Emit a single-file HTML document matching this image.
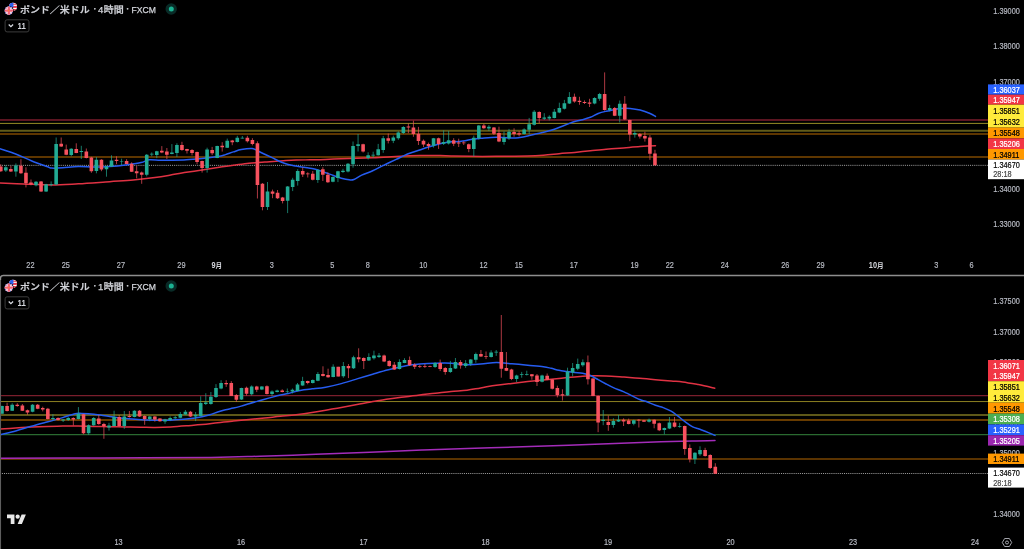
<!DOCTYPE html>
<html lang="ja">
<head>
<meta charset="utf-8">
<title>GBPUSD chart</title>
<style>
html,body{margin:0;padding:0;background:#000}
body{width:1024px;height:549px;position:relative;overflow:hidden;font-family:"Liberation Sans","Noto Sans CJK JP",sans-serif}
</style>
</head>
<body>
<svg width="1024" height="549" viewBox="0 0 1024 549" style="position:absolute;left:0;top:0;will-change:transform">
<rect width="1024" height="549" fill="#000"/>
<g id="pane-top">
<path d="M0 120.1H988" stroke="#5d1521" stroke-width="2.0" fill="none"/>
<path d="M0 123.4H988" stroke="#988c25" stroke-width="1.0" fill="none"/>
<path d="M0 130.8H988" stroke="#615b18" stroke-width="2.0" fill="none"/>
<path d="M0 134.0H988" stroke="#5e3600" stroke-width="2.0" fill="none"/>
<path d="M0 157.0H988" stroke="#5e3600" stroke-width="2.0" fill="none"/>
<path d="M0 165.35H988" stroke="#c4c4c4" stroke-width="0.8" stroke-dasharray="1.05 1.05" stroke-dashoffset="0.2" fill="none"/>
<path d="M0.0 183.0C3.9 183.2 14.9 183.6 23.5 183.9C32.1 184.2 42.6 184.9 51.7 184.9C60.9 184.9 68.7 184.3 78.4 183.8C88.1 183.3 100.6 182.3 109.7 181.7C118.8 181.0 125.6 180.6 133.2 179.9C140.8 179.2 148.8 178.3 155.0 177.5C161.2 176.7 165.5 175.9 170.7 175.0C175.9 174.1 181.1 173.1 186.3 172.3C191.5 171.5 196.8 170.8 202.0 170.0C207.2 169.2 212.5 168.4 217.7 167.6C222.9 166.8 228.2 166.0 233.4 165.3C238.6 164.6 243.8 163.7 249.0 163.2C254.2 162.7 259.5 162.5 264.7 162.1C269.9 161.7 275.2 161.2 280.4 160.9C285.6 160.6 291.2 160.3 296.1 160.1C301.0 159.9 305.1 159.9 310.0 159.8C314.9 159.7 320.5 159.6 325.7 159.4C330.9 159.2 336.1 159.0 341.3 158.8C346.5 158.6 351.8 158.5 357.0 158.3C362.2 158.1 367.5 158.0 372.7 157.8C377.9 157.6 383.2 157.3 388.4 157.0C393.6 156.7 398.8 156.2 404.0 155.9C409.2 155.7 414.5 155.6 419.7 155.5C424.9 155.4 430.2 155.4 435.4 155.5C440.6 155.6 445.3 155.8 451.1 155.9C456.9 156.0 462.5 156.2 470.0 156.3C477.5 156.4 486.7 156.4 496.3 156.3C505.9 156.2 519.9 156.2 527.7 156.0C535.6 155.8 538.2 155.6 543.4 155.2C548.6 154.8 553.8 154.2 559.0 153.7C564.2 153.2 569.5 152.9 574.7 152.4C579.9 151.9 585.2 151.3 590.4 150.8C595.6 150.3 601.2 149.7 606.1 149.3C611.0 148.9 614.4 148.6 620.0 148.2C625.6 147.8 634.1 147.0 640.0 146.6C645.9 146.2 652.9 145.9 655.5 145.8" stroke="#e03243" stroke-width="1.5" fill="none" stroke-linejoin="round" stroke-linecap="round"/>
<path d="M0.0 148.8C2.6 149.7 10.5 152.0 15.7 154.0C20.9 156.0 26.1 158.6 31.3 160.7C36.5 162.8 43.6 165.3 47.0 166.5C50.4 167.7 49.1 167.9 51.7 168.1C54.3 168.3 58.2 168.1 62.7 167.8C67.2 167.5 73.2 166.6 78.4 166.5C83.6 166.4 88.8 167.0 94.0 167.0C99.2 167.0 104.5 166.8 109.7 166.5C114.9 166.2 120.2 165.7 125.4 165.0C130.6 164.3 137.1 163.5 141.0 162.6C144.9 161.7 145.7 160.2 148.9 159.8C152.1 159.4 156.4 160.2 160.0 160.3C163.6 160.4 166.3 160.4 170.7 160.3C175.1 160.2 181.1 160.1 186.3 159.8C191.5 159.5 196.8 159.0 202.0 158.5C207.2 158.0 213.8 157.2 217.7 156.6C221.6 155.9 222.9 155.4 225.5 154.6C228.1 153.8 230.8 152.7 233.4 151.9C236.0 151.1 238.1 150.2 241.2 149.6C244.3 149.0 249.3 148.2 252.2 148.5C255.1 148.8 256.3 150.2 258.4 151.2C260.5 152.2 262.3 153.2 264.7 154.3C267.1 155.4 270.0 156.7 272.6 157.9C275.2 159.2 277.8 160.7 280.4 161.8C283.0 162.9 285.6 163.8 288.2 164.5C290.8 165.2 293.5 165.6 296.1 166.1C298.7 166.6 301.2 166.9 303.9 167.3C306.5 167.7 309.7 168.1 312.0 168.5C314.3 168.9 315.5 169.3 317.8 170.0C320.1 170.7 323.1 171.8 325.7 172.7C328.3 173.6 330.9 174.6 333.5 175.5C336.1 176.4 338.7 177.5 341.3 178.2C343.9 178.9 347.1 179.6 349.2 179.8C351.3 180.0 351.8 180.3 353.9 179.5C356.0 178.7 358.6 176.5 361.7 175.1C364.8 173.7 369.6 172.2 372.7 170.8C375.8 169.4 377.9 168.2 380.5 166.9C383.1 165.6 385.8 164.2 388.4 163.0C391.0 161.8 393.6 160.6 396.2 159.4C398.8 158.2 401.4 156.8 404.0 155.6C406.6 154.4 409.3 153.4 411.9 152.5C414.5 151.6 417.1 150.9 419.7 150.0C422.3 149.1 425.0 148.1 427.6 147.3C430.2 146.5 432.8 145.7 435.4 145.0C438.0 144.3 440.6 143.4 443.2 142.9C445.8 142.4 448.5 142.0 451.1 141.8C453.7 141.6 456.6 141.7 458.9 141.5C461.2 141.3 462.7 141.2 465.0 140.8C467.3 140.4 470.2 139.6 472.8 139.2C475.4 138.8 476.8 138.6 480.7 138.3C484.6 138.0 491.1 137.2 496.3 137.2C501.5 137.1 508.1 137.9 512.0 138.0C515.9 138.1 517.3 137.8 519.9 137.5C522.5 137.2 525.1 136.6 527.7 136.0C530.3 135.4 532.9 134.7 535.5 134.1C538.1 133.5 540.8 132.8 543.4 132.2C546.0 131.5 548.6 131.0 551.2 130.2C553.8 129.4 556.4 128.5 559.0 127.5C561.6 126.5 564.3 125.4 566.9 124.4C569.5 123.4 572.1 122.3 574.7 121.5C577.3 120.7 580.0 120.4 582.6 119.7C585.2 119.0 587.8 118.3 590.4 117.3C593.0 116.3 595.6 114.5 598.2 113.5C600.8 112.5 603.5 111.9 606.1 111.3C608.7 110.7 611.6 110.3 613.9 109.8C616.2 109.3 617.4 108.7 620.1 108.5C622.8 108.3 626.8 108.2 630.1 108.5C633.4 108.8 636.8 109.3 640.1 110.1C643.4 110.9 647.5 112.4 650.1 113.5C652.7 114.6 654.6 116.0 655.5 116.5" stroke="#265cf0" stroke-width="1.5" fill="none" stroke-linejoin="round" stroke-linecap="round"/>
<path d="M5.83 165.0V172.0M15.90 163.4V176.7M36.02 181.0V186.4M46.09 183.8V192.0M51.12 181.4V186.4M56.15 137.5V184.9M71.25 148.2V156.3M81.31 145.8V159.0M96.41 157.1V173.3M106.47 165.8V176.7M111.50 155.3V167.0M121.57 158.7V165.0M146.73 154.0V176.4M151.76 152.4V156.3M156.79 150.8V158.2M171.89 144.1V154.3M176.92 143.3V157.0M207.11 147.7V172.6M217.18 145.7V158.2M227.24 138.6V148.0M237.30 135.8V142.5M242.34 136.0V138.6M267.50 182.0V210.0M287.62 186.0V213.1M292.66 177.8V191.1M297.69 169.2V185.6M317.82 169.0V182.9M332.91 176.3V182.3M337.94 170.8V182.1M342.98 168.8V172.9M348.01 163.0V172.4M353.04 141.5V167.7M358.07 134.0V151.5M368.14 152.3V159.5M373.17 151.7V157.8M378.20 143.9V155.6M383.23 135.9V152.8M393.30 135.6V143.1M398.33 131.3V139.8M403.36 126.2V134.0M433.55 137.9V147.6M443.62 130.4V145.0M448.65 130.9V144.5M473.81 135.6V156.3M478.84 125.0V139.6M488.90 125.1V130.9M504.00 131.4V144.7M509.03 128.9V139.9M524.13 128.3V134.5M529.16 117.9V134.1M534.19 110.1V125.5M544.26 113.2V120.0M549.29 115.3V120.4M554.32 109.0V118.4M559.35 102.7V113.2M564.38 99.9V109.5M569.42 92.1V104.0M594.58 97.2V104.3M599.61 92.9V100.8M609.67 104.9V111.4M619.74 100.5V122.5M634.83 130.7V137.6" stroke="#22ab94" stroke-width="0.7" fill="none"/>
<path d="M0.80 164.2V172.0M10.86 166.0V172.0M20.93 159.2V173.9M25.96 167.3V187.4M30.99 179.5V185.3M41.06 181.0V192.0M61.18 137.5V147.0M66.22 144.6V155.2M76.28 143.3V153.2M86.34 148.5V158.4M91.38 156.8V172.8M101.44 159.2V171.2M116.54 156.3V164.2M126.60 159.2V164.2M131.63 162.3V172.0M136.66 166.0V178.3M141.70 171.5V183.8M161.82 146.1V153.2M166.86 148.0V159.0M181.95 141.8V150.8M186.98 148.8V153.5M192.02 149.1V155.4M197.05 151.6V164.2M202.08 160.6V172.6M212.14 146.9V155.1M222.21 142.2V151.6M232.27 139.9V145.2M247.37 135.8V142.5M252.40 138.2V145.4M257.43 141.3V198.5M262.46 183.0V210.3M272.53 189.6V198.2M277.56 190.0V199.0M282.59 196.9V203.4M302.72 167.6V177.0M307.75 172.3V177.5M312.78 171.0V180.4M322.85 167.2V181.0M327.88 172.4V182.9M363.10 143.7V152.5M388.26 133.5V143.4M408.39 123.5V133.2M413.42 120.7V136.8M418.46 126.9V145.0M423.49 139.5V147.0M428.52 142.6V149.7M438.58 137.6V148.9M453.68 138.2V146.1M458.71 138.7V147.0M463.74 141.1V145.0M468.78 143.5V152.2M483.87 123.9V128.9M493.94 127.0V134.9M498.97 126.7V142.2M514.06 128.3V136.7M519.10 130.9V136.4M539.22 111.3V123.1M574.45 93.6V102.7M579.48 96.8V104.8M584.51 100.4V104.0M589.54 98.8V107.0M604.64 72.4V110.7M614.70 107.0V116.1M624.77 96.1V120.1M629.80 119.7V141.2M639.86 133.1V138.6M644.90 131.7V141.6M649.93 135.1V159.8M654.96 149.8V165.6" stroke="#f7525f" stroke-width="0.7" fill="none"/>
<path d="M4.03 167.3h3.6V170.5h-3.6zM14.10 165.4h3.6V171.6h-3.6zM34.22 181.7h3.6V185.3h-3.6zM44.29 184.2h3.6V191.6h-3.6zM49.32 184.2h3.6V185.0h-3.6zM54.35 144.1h3.6V184.6h-3.6zM69.45 148.8h3.6V155.1h-3.6zM79.51 150.9h3.6V152.0h-3.6zM94.61 159.8h3.6V170.9h-3.6zM104.67 166.5h3.6V169.2h-3.6zM109.70 160.6h3.6V166.5h-3.6zM119.77 161.4h3.6V162.1h-3.6zM144.93 154.8h3.6V174.7h-3.6zM149.96 153.8h3.6V154.6h-3.6zM154.99 151.3h3.6V155.1h-3.6zM170.09 152.4h3.6V154.0h-3.6zM175.12 144.9h3.6V153.0h-3.6zM205.31 149.6h3.6V168.1h-3.6zM215.38 146.1h3.6V157.9h-3.6zM225.44 140.7h3.6V147.7h-3.6zM235.50 137.8h3.6V142.1h-3.6zM240.54 137.8h3.6V138.5h-3.6zM265.70 191.6h3.6V207.1h-3.6zM285.82 186.4h3.6V200.8h-3.6zM290.86 179.8h3.6V186.9h-3.6zM295.89 171.1h3.6V180.9h-3.6zM316.02 170.0h3.6V179.9h-3.6zM331.11 177.1h3.6V181.8h-3.6zM336.14 171.3h3.6V177.9h-3.6zM341.18 170.8h3.6V171.9h-3.6zM346.21 163.8h3.6V171.6h-3.6zM351.24 146.1h3.6V164.2h-3.6zM356.27 144.2h3.6V146.1h-3.6zM366.34 155.2h3.6V158.0h-3.6zM371.37 154.8h3.6V155.6h-3.6zM376.40 149.2h3.6V155.2h-3.6zM381.43 138.2h3.6V150.0h-3.6zM391.50 137.4h3.6V140.7h-3.6zM396.53 132.4h3.6V138.2h-3.6zM401.56 126.9h3.6V132.9h-3.6zM431.75 138.2h3.6V145.8h-3.6zM441.82 142.1h3.6V143.7h-3.6zM446.85 140.3h3.6V143.4h-3.6zM472.01 137.7h3.6V149.0h-3.6zM477.04 125.5h3.6V138.3h-3.6zM487.10 126.7h3.6V128.6h-3.6zM502.20 137.7h3.6V141.9h-3.6zM507.23 131.7h3.6V138.3h-3.6zM522.33 129.4h3.6V134.1h-3.6zM527.36 124.2h3.6V129.8h-3.6zM532.39 111.8h3.6V124.7h-3.6zM542.46 117.6h3.6V118.7h-3.6zM547.49 116.8h3.6V118.4h-3.6zM552.52 111.8h3.6V117.9h-3.6zM557.55 107.9h3.6V112.6h-3.6zM562.58 103.2h3.6V108.7h-3.6zM567.62 96.9h3.6V103.5h-3.6zM592.78 98.0h3.6V103.5h-3.6zM597.81 94.1h3.6V98.8h-3.6zM607.87 108.0h3.6V110.0h-3.6zM617.94 103.7h3.6V115.7h-3.6zM633.03 133.1h3.6V134.5h-3.6z" fill="#22ab94"/>
<path d="M-1.00 166.5h3.6V171.2h-3.6zM9.06 168.9h3.6V171.6h-3.6zM19.13 165.8h3.6V173.3h-3.6zM24.16 172.8h3.6V183.3h-3.6zM29.19 182.5h3.6V184.6h-3.6zM39.26 181.4h3.6V191.6h-3.6zM59.38 143.8h3.6V146.5h-3.6zM64.42 149.6h3.6V154.8h-3.6zM74.48 149.0h3.6V152.9h-3.6zM84.54 151.6h3.6V157.9h-3.6zM89.58 157.4h3.6V171.2h-3.6zM99.64 159.8h3.6V169.4h-3.6zM114.74 159.8h3.6V161.0h-3.6zM124.80 161.0h3.6V163.9h-3.6zM129.83 163.7h3.6V171.7h-3.6zM134.86 171.2h3.6V173.3h-3.6zM139.90 172.5h3.6V174.7h-3.6zM160.02 150.8h3.6V152.4h-3.6zM165.06 151.6h3.6V154.8h-3.6zM180.15 144.9h3.6V150.1h-3.6zM185.18 149.1h3.6V150.8h-3.6zM190.22 150.1h3.6V153.0h-3.6zM195.25 151.9h3.6V162.1h-3.6zM200.28 161.0h3.6V168.1h-3.6zM210.34 149.9h3.6V153.2h-3.6zM220.41 145.7h3.6V147.2h-3.6zM230.47 140.5h3.6V142.2h-3.6zM245.57 137.8h3.6V141.3h-3.6zM250.60 139.9h3.6V144.1h-3.6zM255.63 143.3h3.6V184.9h-3.6zM260.66 183.8h3.6V207.1h-3.6zM270.73 191.6h3.6V193.8h-3.6zM275.76 192.7h3.6V198.2h-3.6zM280.79 197.4h3.6V201.0h-3.6zM300.92 171.1h3.6V174.4h-3.6zM305.95 173.4h3.6V174.2h-3.6zM310.98 173.8h3.6V179.7h-3.6zM321.05 169.3h3.6V174.7h-3.6zM326.08 174.7h3.6V182.3h-3.6zM361.30 144.2h3.6V151.5h-3.6zM386.46 138.2h3.6V140.7h-3.6zM406.59 126.5h3.6V127.4h-3.6zM411.62 127.4h3.6V134.0h-3.6zM416.66 133.7h3.6V141.1h-3.6zM421.69 140.7h3.6V144.5h-3.6zM426.72 143.9h3.6V146.1h-3.6zM436.78 138.2h3.6V143.9h-3.6zM451.88 140.3h3.6V143.7h-3.6zM456.91 142.6h3.6V143.4h-3.6zM461.94 142.5h3.6V143.2h-3.6zM466.98 144.2h3.6V149.0h-3.6zM482.07 125.5h3.6V128.3h-3.6zM492.14 127.5h3.6V133.8h-3.6zM497.17 133.0h3.6V141.6h-3.6zM512.26 132.0h3.6V134.1h-3.6zM517.30 133.3h3.6V134.4h-3.6zM537.42 112.1h3.6V118.1h-3.6zM572.65 96.8h3.6V101.6h-3.6zM577.68 100.8h3.6V101.9h-3.6zM582.71 101.9h3.6V102.9h-3.6zM587.74 102.4h3.6V103.8h-3.6zM602.84 94.1h3.6V110.0h-3.6zM612.90 108.1h3.6V115.7h-3.6zM622.97 103.7h3.6V119.6h-3.6zM628.00 120.1h3.6V134.5h-3.6zM638.06 134.1h3.6V136.5h-3.6zM643.10 136.1h3.6V138.6h-3.6zM648.13 137.6h3.6V153.8h-3.6zM653.16 153.4h3.6V165.2h-3.6z" fill="#f7525f"/>
</g>
<g id="pane-bottom">
<path d="M0 395.7H988" stroke="#7a1e2c" stroke-width="1.3" fill="none"/>
<path d="M0 401.55H988" stroke="#8c8022" stroke-width="1.0" fill="none"/>
<path d="M0 414.9H988" stroke="#5e5818" stroke-width="2.0" fill="none"/>
<path d="M0 420.0H988" stroke="#683c00" stroke-width="2.0" fill="none"/>
<path d="M0 434.6H988" stroke="#2a6a30" stroke-width="1.1" fill="none"/>
<path d="M0 458.9H988" stroke="#784500" stroke-width="1.5" fill="none"/>
<path d="M0 473.5H988" stroke="#c4c4c4" stroke-width="0.8" stroke-dasharray="1.05 1.05" stroke-dashoffset="0.2" fill="none"/>
<path d="M0.0 458.2C16.7 458.2 64.8 458.1 100.0 458.0C135.2 457.9 184.3 457.7 211.0 457.4C237.7 457.1 242.5 456.7 260.0 456.2C277.5 455.7 297.7 455.0 316.0 454.3C334.3 453.6 352.3 452.9 370.0 452.2C387.7 451.5 404.5 450.7 422.0 450.0C439.5 449.3 457.0 448.8 475.0 448.2C493.0 447.6 507.8 447.4 530.0 446.6C552.2 445.9 586.2 444.5 608.0 443.7C629.8 442.9 646.8 442.3 661.0 441.8C675.2 441.3 684.0 441.1 693.0 440.9C702.0 440.7 711.3 440.7 715.0 440.6" stroke="#a42cba" stroke-width="1.5" fill="none" stroke-linejoin="round" stroke-linecap="round"/>
<path d="M0.0 429.1C2.6 428.9 10.5 428.4 15.7 428.0C20.9 427.6 26.1 427.3 31.3 427.0C36.5 426.7 41.8 426.5 47.0 426.4C52.2 426.2 57.5 426.2 62.7 426.1C67.9 426.1 73.2 426.1 78.4 426.1C83.6 426.2 88.8 426.3 94.0 426.4C99.2 426.5 104.5 426.6 109.7 426.7C114.9 426.8 120.2 426.9 125.4 427.0C130.6 427.1 136.1 427.1 141.0 427.2C145.9 427.3 150.1 427.6 155.0 427.5C159.9 427.4 165.5 427.2 170.7 426.9C175.9 426.6 181.1 426.2 186.3 425.8C191.5 425.4 196.8 425.1 202.0 424.6C207.2 424.1 212.5 423.3 217.7 422.7C222.9 422.1 228.2 421.6 233.4 421.1C238.6 420.6 243.8 420.0 249.0 419.5C254.2 419.0 259.5 418.5 264.7 418.0C269.9 417.5 275.2 416.8 280.4 416.3C285.6 415.8 290.8 415.4 296.1 414.8C301.4 414.2 307.1 413.4 312.0 412.6C316.9 411.8 320.8 411.1 325.7 410.2C330.6 409.3 336.1 408.4 341.3 407.4C346.5 406.4 351.8 405.4 357.0 404.4C362.2 403.4 367.5 402.5 372.7 401.6C377.9 400.7 383.2 399.7 388.4 398.9C393.6 398.1 398.8 397.6 404.0 396.9C409.2 396.2 414.5 395.5 419.7 394.9C424.9 394.3 430.2 393.9 435.4 393.3C440.6 392.7 445.8 391.9 451.1 391.4C456.4 390.9 462.1 390.8 467.0 390.2C471.9 389.6 475.8 388.7 480.7 387.9C485.6 387.1 491.1 385.9 496.3 385.2C501.5 384.4 506.8 384.0 512.0 383.4C517.2 382.8 522.5 382.2 527.7 381.6C532.9 381.1 538.2 380.6 543.4 380.1C548.6 379.6 553.8 379.0 559.0 378.5C564.2 378.0 569.5 377.3 574.7 376.9C579.9 376.4 585.2 376.0 590.4 375.8C595.6 375.6 600.5 375.7 606.1 375.9C611.7 376.1 618.4 376.7 624.0 377.1C629.6 377.5 634.5 377.9 639.7 378.3C644.9 378.7 650.2 379.2 655.4 379.7C660.6 380.1 666.5 380.6 671.1 381.0C675.7 381.4 678.2 381.3 682.7 381.9C687.2 382.5 693.0 383.6 698.4 384.6C703.8 385.7 712.1 387.6 714.8 388.2" stroke="#e03243" stroke-width="1.5" fill="none" stroke-linejoin="round" stroke-linecap="round"/>
<path d="M0.0 434.9C2.6 434.2 10.5 432.4 15.7 431.0C20.9 429.6 26.1 427.8 31.3 426.3C36.5 424.8 41.8 423.4 47.0 422.0C52.2 420.6 58.0 419.0 62.7 417.6C67.4 416.2 72.1 414.4 75.2 413.7C78.3 413.0 78.4 413.3 81.5 413.4C84.6 413.5 89.3 413.7 94.0 414.2C98.7 414.7 104.5 415.8 109.7 416.5C114.9 417.2 120.2 418.1 125.4 418.6C130.6 419.1 135.3 419.4 141.1 419.7C146.9 420.0 155.1 420.2 160.0 420.3C164.9 420.4 166.3 420.4 170.7 420.2C175.1 420.0 181.1 419.7 186.3 419.1C191.5 418.5 198.1 417.4 202.0 416.7C205.9 416.0 207.3 415.6 209.9 414.8C212.5 414.0 215.1 412.9 217.7 412.0C220.3 411.1 222.9 410.3 225.5 409.7C228.1 409.1 230.8 408.7 233.4 408.1C236.0 407.5 238.6 406.8 241.2 406.1C243.8 405.4 246.4 404.5 249.0 403.7C251.6 402.9 254.3 402.1 256.9 401.4C259.5 400.6 262.1 399.9 264.7 399.2C267.3 398.5 270.0 397.8 272.6 397.1C275.2 396.4 277.8 395.7 280.4 395.1C283.0 394.5 285.6 394.1 288.2 393.5C290.8 392.9 293.5 391.9 296.1 391.3C298.7 390.7 301.2 390.2 303.9 389.8C306.5 389.4 308.4 389.2 312.0 388.8C315.6 388.4 320.8 388.1 325.7 387.2C330.6 386.3 336.1 385.0 341.3 383.6C346.5 382.2 351.8 380.5 357.0 378.9C362.2 377.3 367.5 375.7 372.7 374.2C377.9 372.7 383.2 371.1 388.4 369.8C393.6 368.5 400.1 367.1 404.0 366.3C407.9 365.5 409.3 365.2 411.9 364.8C414.5 364.4 415.8 364.3 419.7 364.0C423.6 363.7 430.2 363.3 435.4 363.2C440.6 363.1 446.2 363.0 451.1 363.2C456.0 363.4 460.1 364.5 465.0 364.6C469.9 364.8 475.5 364.5 480.7 364.1C485.9 363.8 491.1 362.6 496.3 362.5C501.5 362.4 506.8 363.4 512.0 363.8C517.2 364.2 522.5 364.7 527.7 365.2C532.9 365.7 539.5 366.2 543.4 366.7C547.3 367.2 548.6 367.7 551.2 368.3C553.8 368.9 556.4 369.8 559.0 370.3C561.6 370.9 564.3 371.2 566.9 371.6C569.5 372.0 572.1 372.1 574.7 372.4C577.3 372.7 580.0 372.7 582.6 373.2C585.2 373.7 587.8 374.4 590.4 375.5C593.0 376.6 595.6 378.3 598.2 379.7C600.8 381.1 603.5 382.6 606.1 384.0C608.7 385.4 610.9 386.6 613.9 387.9C616.9 389.2 619.7 390.0 624.0 391.9C628.3 393.8 636.1 397.9 639.7 399.5C643.3 401.1 643.1 400.3 645.7 401.3C648.3 402.3 652.5 404.2 655.4 405.3C658.3 406.4 660.6 406.6 663.2 407.6C665.8 408.6 668.8 409.8 671.1 411.1C673.4 412.4 674.7 413.6 677.0 415.4C679.3 417.1 682.3 419.7 684.9 421.6C687.5 423.5 690.1 425.5 692.7 426.8C695.3 428.1 697.9 428.5 700.5 429.5C703.1 430.5 706.0 431.6 708.4 432.6C710.8 433.6 713.9 434.9 715.0 435.4" stroke="#265cf0" stroke-width="1.5" fill="none" stroke-linejoin="round" stroke-linecap="round"/>
<path d="M2.00 405.6V414.1M12.19 403.2V411.0M32.57 404.0V412.3M52.95 414.2V420.5M63.14 418.9V422.0M68.23 417.0V420.9M78.42 407.1V419.4M88.61 424.4V434.9M93.71 417.0V425.9M108.99 422.8V430.6M114.09 410.7V426.4M124.28 411.0V428.8M134.47 410.3V417.3M149.75 416.1V421.2M165.04 418.8V423.8M170.13 416.4V421.1M175.23 415.9V419.1M180.32 412.0V418.3M185.42 410.0V414.8M195.61 412.0V421.1M200.70 396.3V416.4M205.80 393.2V405.0M210.89 392.0V404.7M215.99 384.1V397.9M221.08 380.2V389.3M241.46 387.7V400.0M251.66 385.4V395.6M261.84 386.2V390.1M272.03 390.4V396.3M277.13 389.6V392.4M287.32 388.5V393.5M292.41 388.5V393.5M297.51 383.0V391.3M302.60 376.8V385.8M312.79 379.4V383.5M317.89 372.1V381.2M333.18 364.3V377.3M343.37 362.0V377.8M353.56 355.7V369.0M368.84 353.3V360.9M373.94 350.7V359.6M379.03 353.0V358.0M399.41 359.3V369.5M404.50 358.2V363.2M435.07 362.1V367.9M450.36 360.9V372.9M455.45 358.0V369.0M465.64 360.1V367.9M470.74 359.0V366.0M475.83 352.6V362.8M491.12 350.3V357.5M496.21 350.0V355.9M516.60 374.7V382.1M521.69 371.9V377.7M526.78 370.7V375.5M542.07 374.7V382.4M567.54 367.7V395.9M572.64 363.0V376.3M577.74 358.6V370.3M582.83 359.4V366.7M603.21 410.0V425.2M613.40 418.3V427.7M618.50 415.0V422.0M633.78 419.7V425.3M649.06 418.6V422.5M664.35 427.5V434.3M669.44 417.0V429.1M679.63 422.8V427.7M694.92 452.2V464.0M700.01 446.3V455.8" stroke="#22ab94" stroke-width="0.7" fill="none"/>
<path d="M7.09 402.7V411.5M17.29 403.2V406.8M22.38 404.0V411.0M27.47 409.5V414.7M37.66 404.0V409.2M42.76 406.7V411.4M47.85 407.9V419.4M58.04 417.3V420.5M73.33 417.3V425.5M83.52 413.9V434.2M98.80 415.0V424.8M103.90 422.8V438.8M119.18 415.0V426.7M129.38 411.0V417.6M139.56 410.0V417.0M144.66 415.4V424.8M154.85 416.1V421.7M159.94 418.1V421.8M190.51 410.9V417.0M226.18 380.2V386.9M231.27 381.1V396.0M236.37 394.0V401.8M246.56 386.6V395.6M256.75 385.8V392.1M266.94 385.4V394.5M282.22 389.3V392.4M307.70 380.7V384.3M322.98 366.3V376.5M328.08 368.7V377.8M338.27 366.8V376.5M348.46 364.0V378.1M358.65 348.3V362.4M363.75 357.3V369.0M384.12 354.6V362.1M389.22 360.1V366.8M394.31 362.0V370.0M409.60 356.5V365.9M414.69 363.2V369.0M419.79 364.8V367.9M424.88 364.0V367.9M429.98 365.6V367.1M440.17 359.6V371.1M445.26 367.1V374.7M460.55 360.1V368.7M480.93 350.0V357.0M486.02 351.5V359.1M501.31 315.0V377.7M506.40 352.0V371.1M511.50 368.8V380.1M531.88 374.0V379.7M536.98 374.0V386.0M547.16 373.5V380.2M552.26 379.0V389.5M557.36 385.7V397.4M562.45 389.3V400.6M587.92 355.5V384.5M593.02 378.2V396.2M598.12 395.5V432.2M608.30 415.5V430.8M623.59 418.3V426.0M628.68 418.6V424.4M638.88 419.1V427.5M643.97 419.8V421.9M654.16 419.4V428.3M659.25 422.5V431.1M674.54 417.0V427.5M684.73 425.6V454.8M689.82 444.4V462.4M705.11 447.8V456.6M710.20 454.2V469.0M715.30 463.2V473.8" stroke="#f7525f" stroke-width="0.7" fill="none"/>
<path d="M0.20 405.9h3.6V413.7h-3.6zM10.39 404.8h3.6V410.7h-3.6zM30.77 404.8h3.6V411.8h-3.6zM51.15 418.1h3.6V418.9h-3.6zM61.34 419.4h3.6V420.5h-3.6zM66.44 418.1h3.6V420.0h-3.6zM76.62 413.7h3.6V418.9h-3.6zM86.81 425.2h3.6V433.3h-3.6zM91.91 418.1h3.6V425.2h-3.6zM107.19 425.5h3.6V427.5h-3.6zM112.29 417.0h3.6V425.9h-3.6zM122.48 416.5h3.6V425.9h-3.6zM132.67 410.7h3.6V417.0h-3.6zM147.95 416.5h3.6V418.9h-3.6zM163.24 419.4h3.6V421.4h-3.6zM168.33 418.0h3.6V419.9h-3.6zM173.43 417.2h3.6V418.3h-3.6zM178.52 414.1h3.6V417.8h-3.6zM183.62 411.7h3.6V414.4h-3.6zM193.81 414.8h3.6V416.4h-3.6zM198.90 402.9h3.6V415.9h-3.6zM204.00 402.6h3.6V403.9h-3.6zM209.09 396.8h3.6V403.9h-3.6zM214.19 388.0h3.6V397.1h-3.6zM219.28 383.0h3.6V388.5h-3.6zM239.66 388.0h3.6V399.5h-3.6zM249.85 386.5h3.6V394.3h-3.6zM260.04 386.6h3.6V389.6h-3.6zM270.23 391.6h3.6V394.0h-3.6zM275.33 390.4h3.6V392.0h-3.6zM285.52 390.9h3.6V391.6h-3.6zM290.61 389.8h3.6V391.6h-3.6zM295.71 384.6h3.6V390.9h-3.6zM300.80 381.1h3.6V385.4h-3.6zM310.99 380.1h3.6V383.0h-3.6zM316.09 373.9h3.6V380.8h-3.6zM331.38 366.8h3.6V377.0h-3.6zM341.56 366.0h3.6V376.2h-3.6zM351.75 357.3h3.6V368.2h-3.6zM367.04 356.9h3.6V360.5h-3.6zM372.13 355.4h3.6V358.2h-3.6zM377.23 355.4h3.6V356.9h-3.6zM397.61 362.1h3.6V369.0h-3.6zM402.70 360.1h3.6V362.9h-3.6zM433.27 362.9h3.6V367.1h-3.6zM448.56 367.9h3.6V372.1h-3.6zM453.65 362.1h3.6V368.4h-3.6zM463.84 363.2h3.6V365.9h-3.6zM468.94 359.4h3.6V363.8h-3.6zM474.03 353.9h3.6V359.8h-3.6zM489.32 352.6h3.6V357.0h-3.6zM494.41 351.8h3.6V352.6h-3.6zM514.80 375.4h3.6V379.0h-3.6zM519.89 374.0h3.6V374.7h-3.6zM524.99 373.9h3.6V374.7h-3.6zM540.27 375.5h3.6V381.8h-3.6zM565.75 371.5h3.6V395.5h-3.6zM570.84 368.0h3.6V372.4h-3.6zM575.94 364.1h3.6V368.8h-3.6zM581.03 362.2h3.6V365.2h-3.6zM601.41 419.8h3.6V421.1h-3.6zM611.60 420.9h3.6V424.9h-3.6zM616.70 419.8h3.6V421.4h-3.6zM631.98 420.2h3.6V423.8h-3.6zM647.26 419.7h3.6V421.7h-3.6zM662.55 428.0h3.6V430.0h-3.6zM667.64 422.5h3.6V428.5h-3.6zM677.84 426.0h3.6V426.7h-3.6zM693.12 452.7h3.6V459.3h-3.6zM698.22 449.9h3.6V454.2h-3.6z" fill="#22ab94"/>
<path d="M5.29 405.9h3.6V411.0h-3.6zM15.48 404.8h3.6V406.0h-3.6zM20.58 405.6h3.6V410.7h-3.6zM25.67 410.3h3.6V412.6h-3.6zM35.87 404.8h3.6V408.7h-3.6zM40.96 407.9h3.6V409.5h-3.6zM46.05 408.7h3.6V418.9h-3.6zM56.24 418.1h3.6V420.0h-3.6zM71.53 418.1h3.6V419.4h-3.6zM81.72 414.2h3.6V433.3h-3.6zM97.00 418.4h3.6V424.1h-3.6zM102.10 423.9h3.6V425.9h-3.6zM117.38 417.0h3.6V425.9h-3.6zM127.58 416.1h3.6V417.0h-3.6zM137.76 410.7h3.6V416.5h-3.6zM142.86 416.1h3.6V418.9h-3.6zM153.05 416.5h3.6V419.4h-3.6zM158.14 418.6h3.6V421.3h-3.6zM188.71 411.7h3.6V416.4h-3.6zM224.38 383.0h3.6V384.3h-3.6zM229.47 383.0h3.6V395.9h-3.6zM234.57 395.1h3.6V399.8h-3.6zM244.76 387.7h3.6V393.7h-3.6zM254.95 386.5h3.6V389.8h-3.6zM265.14 386.2h3.6V394.0h-3.6zM280.42 390.4h3.6V392.0h-3.6zM305.90 381.1h3.6V383.0h-3.6zM321.18 373.9h3.6V376.1h-3.6zM326.28 375.0h3.6V377.3h-3.6zM336.47 366.8h3.6V376.5h-3.6zM346.66 366.0h3.6V368.2h-3.6zM356.85 357.3h3.6V359.3h-3.6zM361.94 358.0h3.6V360.9h-3.6zM382.32 355.4h3.6V361.6h-3.6zM387.42 360.9h3.6V366.0h-3.6zM392.51 364.8h3.6V369.5h-3.6zM407.80 360.1h3.6V365.3h-3.6zM412.89 364.8h3.6V366.8h-3.6zM417.99 366.0h3.6V366.8h-3.6zM423.08 366.0h3.6V366.8h-3.6zM428.18 366.0h3.6V366.8h-3.6zM438.37 362.9h3.6V369.0h-3.6zM443.46 367.9h3.6V372.1h-3.6zM458.75 362.1h3.6V365.6h-3.6zM479.13 353.9h3.6V356.6h-3.6zM484.22 355.9h3.6V356.7h-3.6zM499.51 352.0h3.6V368.8h-3.6zM504.60 368.0h3.6V370.7h-3.6zM509.70 369.6h3.6V379.0h-3.6zM530.08 374.3h3.6V376.3h-3.6zM535.18 375.5h3.6V382.1h-3.6zM545.37 375.8h3.6V379.7h-3.6zM550.46 379.4h3.6V388.8h-3.6zM555.56 388.0h3.6V395.1h-3.6zM560.65 394.3h3.6V395.5h-3.6zM586.12 362.2h3.6V379.3h-3.6zM591.22 378.6h3.6V395.9h-3.6zM596.32 395.9h3.6V422.5h-3.6zM606.50 422.0h3.6V424.9h-3.6zM621.79 419.8h3.6V421.4h-3.6zM626.88 420.6h3.6V424.1h-3.6zM637.08 419.7h3.6V420.5h-3.6zM642.17 420.2h3.6V421.7h-3.6zM652.36 419.8h3.6V423.8h-3.6zM657.46 423.3h3.6V430.3h-3.6zM672.74 422.5h3.6V426.7h-3.6zM682.93 426.0h3.6V449.0h-3.6zM688.02 448.0h3.6V459.3h-3.6zM703.31 449.9h3.6V456.1h-3.6zM708.40 455.0h3.6V467.9h-3.6zM713.50 466.8h3.6V473.7h-3.6z" fill="#f7525f"/>
</g>
<path d="M0.5 549V279" stroke="#5e5e5e" stroke-width="1.1" fill="none"/>
<path d="M0.4 280V278.4Q0.4 275.6 3.2 275.6H1024" stroke="#8e8e8e" stroke-width="1.5" fill="none"/>
<g font-family="'Liberation Sans', 'Noto Sans CJK JP', sans-serif">
<text transform="translate(993.3 13.70) scale(0.895 1)" font-size="8.2" fill="#b8bbc4" text-anchor="start" stroke="#b8bbc4" stroke-width="0.18">1.39000</text>
<text transform="translate(993.3 49.40) scale(0.895 1)" font-size="8.2" fill="#b8bbc4" text-anchor="start" stroke="#b8bbc4" stroke-width="0.18">1.38000</text>
<text transform="translate(993.3 84.80) scale(0.895 1)" font-size="8.2" fill="#b8bbc4" text-anchor="start" stroke="#b8bbc4" stroke-width="0.18">1.37000</text>
<text transform="translate(993.3 120.40) scale(0.895 1)" font-size="8.2" fill="#b8bbc4" text-anchor="start" stroke="#b8bbc4" stroke-width="0.18">1.36000</text>
<text transform="translate(993.3 156.10) scale(0.895 1)" font-size="8.2" fill="#b8bbc4" text-anchor="start" stroke="#b8bbc4" stroke-width="0.18">1.35000</text>
<text transform="translate(993.3 191.80) scale(0.895 1)" font-size="8.2" fill="#b8bbc4" text-anchor="start" stroke="#b8bbc4" stroke-width="0.18">1.34000</text>
<text transform="translate(993.3 227.30) scale(0.895 1)" font-size="8.2" fill="#b8bbc4" text-anchor="start" stroke="#b8bbc4" stroke-width="0.18">1.33000</text>
<text transform="translate(993.3 304.20) scale(0.895 1)" font-size="8.2" fill="#b8bbc4" text-anchor="start" stroke="#b8bbc4" stroke-width="0.18">1.37500</text>
<text transform="translate(993.3 334.50) scale(0.895 1)" font-size="8.2" fill="#b8bbc4" text-anchor="start" stroke="#b8bbc4" stroke-width="0.18">1.37000</text>
<text transform="translate(993.3 364.90) scale(0.895 1)" font-size="8.2" fill="#b8bbc4" text-anchor="start" stroke="#b8bbc4" stroke-width="0.18">1.36500</text>
<text transform="translate(993.3 395.30) scale(0.895 1)" font-size="8.2" fill="#b8bbc4" text-anchor="start" stroke="#b8bbc4" stroke-width="0.18">1.36000</text>
<text transform="translate(993.3 425.70) scale(0.895 1)" font-size="8.2" fill="#b8bbc4" text-anchor="start" stroke="#b8bbc4" stroke-width="0.18">1.35500</text>
<text transform="translate(993.3 456.10) scale(0.895 1)" font-size="8.2" fill="#b8bbc4" text-anchor="start" stroke="#b8bbc4" stroke-width="0.18">1.35000</text>
<text transform="translate(993.3 516.80) scale(0.895 1)" font-size="8.2" fill="#b8bbc4" text-anchor="start" stroke="#b8bbc4" stroke-width="0.18">1.34000</text>
<text transform="translate(30.4 268.00) scale(0.895 1)" font-size="8.2" fill="#b8bbc4" text-anchor="middle" stroke="#b8bbc4" stroke-width="0.18">22</text>
<text transform="translate(65.8 268.00) scale(0.895 1)" font-size="8.2" fill="#b8bbc4" text-anchor="middle" stroke="#b8bbc4" stroke-width="0.18">25</text>
<text transform="translate(120.9 268.00) scale(0.895 1)" font-size="8.2" fill="#b8bbc4" text-anchor="middle" stroke="#b8bbc4" stroke-width="0.18">27</text>
<text transform="translate(181.4 268.00) scale(0.895 1)" font-size="8.2" fill="#b8bbc4" text-anchor="middle" stroke="#b8bbc4" stroke-width="0.18">29</text>
<text transform="translate(271.9 268.00) scale(0.895 1)" font-size="8.2" fill="#b8bbc4" text-anchor="middle" stroke="#b8bbc4" stroke-width="0.18">3</text>
<text transform="translate(332.3 268.00) scale(0.895 1)" font-size="8.2" fill="#b8bbc4" text-anchor="middle" stroke="#b8bbc4" stroke-width="0.18">5</text>
<text transform="translate(367.7 268.00) scale(0.895 1)" font-size="8.2" fill="#b8bbc4" text-anchor="middle" stroke="#b8bbc4" stroke-width="0.18">8</text>
<text transform="translate(423.2 268.00) scale(0.895 1)" font-size="8.2" fill="#b8bbc4" text-anchor="middle" stroke="#b8bbc4" stroke-width="0.18">10</text>
<text transform="translate(483.6 268.00) scale(0.895 1)" font-size="8.2" fill="#b8bbc4" text-anchor="middle" stroke="#b8bbc4" stroke-width="0.18">12</text>
<text transform="translate(518.7 268.00) scale(0.895 1)" font-size="8.2" fill="#b8bbc4" text-anchor="middle" stroke="#b8bbc4" stroke-width="0.18">15</text>
<text transform="translate(573.8 268.00) scale(0.895 1)" font-size="8.2" fill="#b8bbc4" text-anchor="middle" stroke="#b8bbc4" stroke-width="0.18">17</text>
<text transform="translate(634.6 268.00) scale(0.895 1)" font-size="8.2" fill="#b8bbc4" text-anchor="middle" stroke="#b8bbc4" stroke-width="0.18">19</text>
<text transform="translate(669.7 268.00) scale(0.895 1)" font-size="8.2" fill="#b8bbc4" text-anchor="middle" stroke="#b8bbc4" stroke-width="0.18">22</text>
<text transform="translate(724.8 268.00) scale(0.895 1)" font-size="8.2" fill="#b8bbc4" text-anchor="middle" stroke="#b8bbc4" stroke-width="0.18">24</text>
<text transform="translate(785.3 268.00) scale(0.895 1)" font-size="8.2" fill="#b8bbc4" text-anchor="middle" stroke="#b8bbc4" stroke-width="0.18">26</text>
<text transform="translate(820.5 268.00) scale(0.895 1)" font-size="8.2" fill="#b8bbc4" text-anchor="middle" stroke="#b8bbc4" stroke-width="0.18">29</text>
<text transform="translate(936.3 268.00) scale(0.895 1)" font-size="8.2" fill="#b8bbc4" text-anchor="middle" stroke="#b8bbc4" stroke-width="0.18">3</text>
<text transform="translate(971.5 268.00) scale(0.895 1)" font-size="8.2" fill="#b8bbc4" text-anchor="middle" stroke="#b8bbc4" stroke-width="0.18">6</text>
<text transform="translate(216.8 268.00) scale(0.895 1)" font-size="8.2" fill="#d6d8de" text-anchor="middle" font-weight="bold">9<tspan font-size="7.4">月</tspan></text>
<text transform="translate(876.2 268.00) scale(0.895 1)" font-size="8.2" fill="#d6d8de" text-anchor="middle" font-weight="bold">10<tspan font-size="7.4">月</tspan></text>
<text transform="translate(118.5 545.00) scale(0.895 1)" font-size="8.2" fill="#b8bbc4" text-anchor="middle" stroke="#b8bbc4" stroke-width="0.18">13</text>
<text transform="translate(241 545.00) scale(0.895 1)" font-size="8.2" fill="#b8bbc4" text-anchor="middle" stroke="#b8bbc4" stroke-width="0.18">16</text>
<text transform="translate(363.5 545.00) scale(0.895 1)" font-size="8.2" fill="#b8bbc4" text-anchor="middle" stroke="#b8bbc4" stroke-width="0.18">17</text>
<text transform="translate(485.5 545.00) scale(0.895 1)" font-size="8.2" fill="#b8bbc4" text-anchor="middle" stroke="#b8bbc4" stroke-width="0.18">18</text>
<text transform="translate(608 545.00) scale(0.895 1)" font-size="8.2" fill="#b8bbc4" text-anchor="middle" stroke="#b8bbc4" stroke-width="0.18">19</text>
<text transform="translate(730.5 545.00) scale(0.895 1)" font-size="8.2" fill="#b8bbc4" text-anchor="middle" stroke="#b8bbc4" stroke-width="0.18">20</text>
<text transform="translate(853 545.00) scale(0.895 1)" font-size="8.2" fill="#b8bbc4" text-anchor="middle" stroke="#b8bbc4" stroke-width="0.18">23</text>
<text transform="translate(975 545.00) scale(0.895 1)" font-size="8.2" fill="#b8bbc4" text-anchor="middle" stroke="#b8bbc4" stroke-width="0.18">24</text>
<rect x="988" y="84.4" width="36" height="10.3" fill="#2962ff"/>
<text transform="translate(993.3 92.80) scale(0.895 1)" font-size="8.2" fill="#fff" text-anchor="start" stroke="#fff" stroke-width="0.25">1.36037</text>
<rect x="988" y="94.7" width="36" height="10.0" fill="#f23645"/>
<text transform="translate(993.3 103.20) scale(0.895 1)" font-size="8.2" fill="#fff" text-anchor="start" stroke="#fff" stroke-width="0.25">1.35947</text>
<rect x="988" y="104.7" width="36" height="11.3" fill="#ffeb3b"/>
<text transform="translate(993.3 114.20) scale(0.895 1)" font-size="8.2" fill="#000" text-anchor="start" stroke="#000" stroke-width="0.25">1.35851</text>
<rect x="988" y="116" width="36" height="11.6" fill="#ffeb3b"/>
<text transform="translate(993.3 125.20) scale(0.895 1)" font-size="8.2" fill="#000" text-anchor="start" stroke="#000" stroke-width="0.25">1.35632</text>
<rect x="988" y="127.6" width="36" height="10.8" fill="#ff9800"/>
<text transform="translate(993.3 136.20) scale(0.895 1)" font-size="8.2" fill="#000" text-anchor="start" stroke="#000" stroke-width="0.25">1.35548</text>
<rect x="988" y="138.4" width="36" height="10.6" fill="#f23645"/>
<text transform="translate(993.3 146.80) scale(0.895 1)" font-size="8.2" fill="#fff" text-anchor="start" stroke="#fff" stroke-width="0.25">1.35206</text>
<rect x="988" y="149" width="36" height="10.6" fill="#ff9800"/>
<text transform="translate(993.3 157.60) scale(0.895 1)" font-size="8.2" fill="#000" text-anchor="start" stroke="#000" stroke-width="0.25">1.34911</text>
<rect x="988" y="159.6" width="36" height="19.6" fill="#fff"/>
<text transform="translate(993.3 168.20) scale(0.895 1)" font-size="8.2" fill="#000" text-anchor="start" stroke="#000" stroke-width="0.18">1.34670</text>
<text transform="translate(993.3 177.40) scale(0.895 1)" font-size="8.2" fill="#444" text-anchor="start" stroke="#444" stroke-width="0.18">28:18</text>
<rect x="988" y="360" width="36" height="11.0" fill="#f23645"/>
<text transform="translate(993.3 368.80) scale(0.895 1)" font-size="8.2" fill="#fff" text-anchor="start" stroke="#fff" stroke-width="0.25">1.36071</text>
<rect x="988" y="371" width="36" height="10.2" fill="#f23645"/>
<text transform="translate(993.3 379.20) scale(0.895 1)" font-size="8.2" fill="#fff" text-anchor="start" stroke="#fff" stroke-width="0.25">1.35947</text>
<rect x="988" y="381.2" width="36" height="10.8" fill="#ffeb3b"/>
<text transform="translate(993.3 390.20) scale(0.895 1)" font-size="8.2" fill="#000" text-anchor="start" stroke="#000" stroke-width="0.25">1.35851</text>
<rect x="988" y="392" width="36" height="10.6" fill="#ffeb3b"/>
<text transform="translate(993.3 400.80) scale(0.895 1)" font-size="8.2" fill="#000" text-anchor="start" stroke="#000" stroke-width="0.25">1.35632</text>
<rect x="988" y="402.6" width="36" height="11.0" fill="#ff9800"/>
<text transform="translate(993.3 411.60) scale(0.895 1)" font-size="8.2" fill="#000" text-anchor="start" stroke="#000" stroke-width="0.25">1.35548</text>
<rect x="988" y="413.6" width="36" height="10.8" fill="#4caf50"/>
<text transform="translate(993.3 422.20) scale(0.895 1)" font-size="8.2" fill="#fff" text-anchor="start" stroke="#fff" stroke-width="0.25">1.35308</text>
<rect x="988" y="424.4" width="36" height="10.8" fill="#2962ff"/>
<text transform="translate(993.3 433.20) scale(0.895 1)" font-size="8.2" fill="#fff" text-anchor="start" stroke="#fff" stroke-width="0.25">1.35291</text>
<rect x="988" y="435.2" width="36" height="10.4" fill="#9c27b0"/>
<text transform="translate(993.3 443.80) scale(0.895 1)" font-size="8.2" fill="#fff" text-anchor="start" stroke="#fff" stroke-width="0.25">1.35205</text>
<rect x="988" y="453.6" width="36" height="10.4" fill="#ff9800"/>
<text transform="translate(993.3 462.20) scale(0.895 1)" font-size="8.2" fill="#000" text-anchor="start" stroke="#000" stroke-width="0.25">1.34911</text>
<rect x="988" y="467.6" width="36" height="20" fill="#fff"/>
<text transform="translate(993.3 476.20) scale(0.895 1)" font-size="8.2" fill="#000" text-anchor="start" stroke="#000" stroke-width="0.18">1.34670</text>
<text transform="translate(993.3 485.80) scale(0.895 1)" font-size="8.2" fill="#444" text-anchor="start" stroke="#444" stroke-width="0.18">28:18</text>
</g>
<g transform="translate(0,0)">
<clipPath id="us0"><circle cx="13" cy="6.8" r="4.05"/></clipPath>
<g clip-path="url(#us0)"><rect x="8" y="2" width="10" height="10" fill="#fbfbfb"/><rect x="8" y="2.6" width="10" height="0.7" fill="#ea3a4e"/><rect x="8" y="3.9" width="10" height="0.9" fill="#ea3a4e"/><rect x="8" y="5.9" width="10" height="2.0" fill="#ea3a4e"/><rect x="8" y="9.0" width="10" height="1.9" fill="#ea3a4e"/><rect x="8" y="2" width="5.4" height="5.3" fill="#2a62f0"/></g>
<circle cx="8.8" cy="10.7" r="4.8" fill="#000"/>
<clipPath id="uk0"><circle cx="8.8" cy="10.7" r="4.1"/></clipPath>
<g clip-path="url(#uk0)"><rect x="4" y="6" width="10" height="10" fill="#2238b8"/><path d="M4.3 6.2L13.3 15.2M13.3 6.2L4.3 15.2" stroke="#fff" stroke-width="1.5"/><path d="M4.3 6.2L13.3 15.2M13.3 6.2L4.3 15.2" stroke="#ec4a5e" stroke-width="0.6"/><path d="M8.8 6V16M4 10.7H14" stroke="#fff" stroke-width="3.3"/><path d="M8.8 6V16M4 10.7H14" stroke="#f46074" stroke-width="2.3"/><circle cx="8.4" cy="10.6" r="0.7" fill="#ff9020"/></g>
<g fill="#d4d6dc" stroke="#d4d6dc" stroke-width="0.25" font-weight="500"><text transform="translate(19.9 13.2) scale(1.1 1)" font-size="9.1" font-family="'Liberation Sans', 'Noto Sans CJK JP', sans-serif">ポンド／米ドル</text><text x="92.2" y="11.799999999999999" font-size="9" font-family="'Noto Sans CJK JP', sans-serif">·</text><text x="97.9" y="13.2" font-size="9.6" font-family="'Liberation Sans', 'Noto Sans CJK JP', sans-serif">4</text><text transform="translate(103.65 13.2) scale(1.1 1)" font-size="9.1" font-family="'Liberation Sans', 'Noto Sans CJK JP', sans-serif">時間</text><text x="125.0" y="11.799999999999999" font-size="9" font-family="'Noto Sans CJK JP', sans-serif">·</text><text x="131.5" y="13.2" font-size="9.6" textLength="24.4" lengthAdjust="spacingAndGlyphs" font-family="'Liberation Sans', 'Noto Sans CJK JP', sans-serif">FXCM</text></g>
<circle cx="171.2" cy="9" r="5.7" fill="#092b27"/><circle cx="171.3" cy="8.9" r="2.5" fill="#1bb292"/>
<rect x="5.1" y="19.8" width="23.9" height="12.1" rx="2" fill="none" stroke="#3c3c3c" stroke-width="1"/>
<path d="M8.7 24.5L10.9 26.7L13.1 24.5" stroke="#dcdfe6" stroke-width="1.2" fill="none"/>
<text x="17.5" y="28.9" font-size="8.2" font-weight="bold" fill="#d4d6dc" textLength="8.2" lengthAdjust="spacingAndGlyphs" font-family="'Liberation Sans', sans-serif">11</text>
</g>
<g transform="translate(0,277)">
<clipPath id="us277"><circle cx="13" cy="6.8" r="4.05"/></clipPath>
<g clip-path="url(#us277)"><rect x="8" y="2" width="10" height="10" fill="#fbfbfb"/><rect x="8" y="2.6" width="10" height="0.7" fill="#ea3a4e"/><rect x="8" y="3.9" width="10" height="0.9" fill="#ea3a4e"/><rect x="8" y="5.9" width="10" height="2.0" fill="#ea3a4e"/><rect x="8" y="9.0" width="10" height="1.9" fill="#ea3a4e"/><rect x="8" y="2" width="5.4" height="5.3" fill="#2a62f0"/></g>
<circle cx="8.8" cy="10.7" r="4.8" fill="#000"/>
<clipPath id="uk277"><circle cx="8.8" cy="10.7" r="4.1"/></clipPath>
<g clip-path="url(#uk277)"><rect x="4" y="6" width="10" height="10" fill="#2238b8"/><path d="M4.3 6.2L13.3 15.2M13.3 6.2L4.3 15.2" stroke="#fff" stroke-width="1.5"/><path d="M4.3 6.2L13.3 15.2M13.3 6.2L4.3 15.2" stroke="#ec4a5e" stroke-width="0.6"/><path d="M8.8 6V16M4 10.7H14" stroke="#fff" stroke-width="3.3"/><path d="M8.8 6V16M4 10.7H14" stroke="#f46074" stroke-width="2.3"/><circle cx="8.4" cy="10.6" r="0.7" fill="#ff9020"/></g>
<g fill="#d4d6dc" stroke="#d4d6dc" stroke-width="0.25" font-weight="500"><text transform="translate(19.9 13.2) scale(1.1 1)" font-size="9.1" font-family="'Liberation Sans', 'Noto Sans CJK JP', sans-serif">ポンド／米ドル</text><text x="92.2" y="11.799999999999999" font-size="9" font-family="'Noto Sans CJK JP', sans-serif">·</text><text x="97.9" y="13.2" font-size="9.6" font-family="'Liberation Sans', 'Noto Sans CJK JP', sans-serif">1</text><text transform="translate(103.65 13.2) scale(1.1 1)" font-size="9.1" font-family="'Liberation Sans', 'Noto Sans CJK JP', sans-serif">時間</text><text x="125.0" y="11.799999999999999" font-size="9" font-family="'Noto Sans CJK JP', sans-serif">·</text><text x="131.5" y="13.2" font-size="9.6" textLength="24.4" lengthAdjust="spacingAndGlyphs" font-family="'Liberation Sans', 'Noto Sans CJK JP', sans-serif">FXCM</text></g>
<circle cx="171.2" cy="9" r="5.7" fill="#092b27"/><circle cx="171.3" cy="8.9" r="2.5" fill="#1bb292"/>
<rect x="5.1" y="19.8" width="23.9" height="12.1" rx="2" fill="none" stroke="#3c3c3c" stroke-width="1"/>
<path d="M8.7 24.5L10.9 26.7L13.1 24.5" stroke="#dcdfe6" stroke-width="1.2" fill="none"/>
<text x="17.5" y="28.9" font-size="8.2" font-weight="bold" fill="#d4d6dc" textLength="8.2" lengthAdjust="spacingAndGlyphs" font-family="'Liberation Sans', sans-serif">11</text>
</g>
<g transform="translate(7,512.4) scale(0.532)" fill="#e8e8e8"><path d="M14 22H7V11H0V4h14v18zM28 22h-8l7.5-18h8L28 22z"/><circle cx="20" cy="8" r="4"/></g>
<g stroke="#b4b6bd" stroke-width="0.9" fill="none" stroke-linejoin="round"><path d="M1011.7 542.5L1009.35 546.5H1004.65L1002.3 542.5L1004.65 538.5H1009.35Z"/><circle cx="1007" cy="542.5" r="1.5"/></g>
</svg>

</body>
</html>
